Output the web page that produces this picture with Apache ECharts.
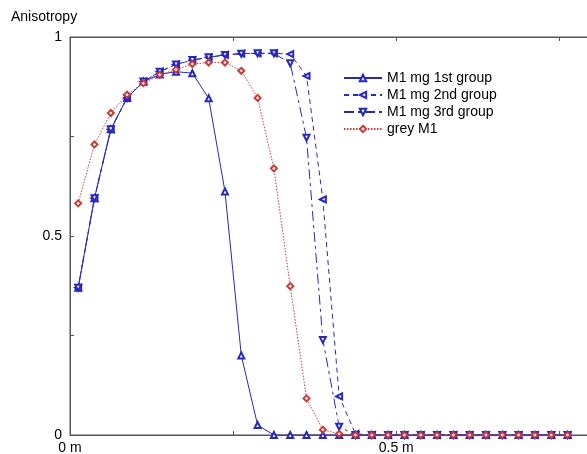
<!DOCTYPE html>
<html>
<head>
<meta charset="utf-8">
<script src="https://cdn.jsdelivr.net/npm/echarts@6/dist/echarts.min.js"></script>
<style>html,body{margin:0;padding:0;background:#fff}#c{width:587px;height:454px}</style>
</head>
<body>
<div id="c"></div>
<script>
const xs = [0.0125,0.0375,0.0625,0.0875,0.1125,0.1375,0.1625,0.1875,0.2125,0.2375,0.2625,0.2875,0.3125,0.3375,0.3625,0.3875,0.4125,0.4375,0.4625,0.4875,0.5125,0.5375,0.5625,0.5875,0.6125,0.6375,0.6625,0.6875,0.7125,0.7375,0.7625];
const group1 = [0.37,0.595,0.768,0.847,0.888,0.906,0.913,0.909,0.846,0.612,0.2,0.025,0,0,0,0,0,0,0,0,0,0,0,0,0,0,0,0,0,0,0];
const group2 = [0.37,0.595,0.768,0.847,0.888,0.913,0.931,0.942,0.949,0.955,0.958,0.959,0.959,0.957,0.902,0.592,0.097,0.003,0,0,0,0,0,0,0,0,0,0,0,0,0];
const group3 = [0.37,0.595,0.768,0.847,0.888,0.913,0.931,0.942,0.949,0.955,0.958,0.959,0.959,0.934,0.747,0.239,0.021,0,0,0,0,0,0,0,0,0,0,0,0,0,0];
const greyM1 = [0.582,0.73,0.809,0.855,0.884,0.905,0.918,0.932,0.936,0.936,0.915,0.847,0.67,0.374,0.092,0.013,0.003,0,0,0,0,0,0,0,0,0,0,0,0,0,0];
const names = ['M1 mg 1st group','M1 mg 2nd group','M1 mg 3rd group','grey M1'];
const xTickLabels = {0: '0 m', 0.5: '0.5 m'};
const yTickLabels = {0: '0', 0.5: '0.5', 1: '1'};

const BLUE = '#2828c0', RED = '#cc3a3a', AX = '#555';
const pair = arr => xs.map((x, i) => [x, arr[i]]);
const font = 'Liberation Sans, Arial, sans-serif';

const chart = echarts.init(document.getElementById('c'), null, {renderer: 'canvas'});
function lbl(map, v) {
  for (const k in map) if (Math.abs(v - Number(k)) < 1e-9) return map[k];
  return '';
}
chart.setOption({
  animation: false,
  backgroundColor: '#fff',
  title: {text: 'Anisotropy', left: 11, top: 10, padding: 0, textStyle: {fontSize: 14, fontWeight: 'normal', color: '#000', fontFamily: font}},
  grid: {left: 70, top: 37, width: 522, bottom: 19, outerBoundsMode: 'none', containLabel: false,
         show: true, borderColor: AX, borderWidth: 1, backgroundColor: 'transparent'},
  legend: {
    orient: 'vertical', left: 338, top: 66, itemWidth: 38, itemHeight: 8, itemGap: 3,
    data: names,
    textStyle: {fontSize: 14, color: '#000', fontFamily: font}
  },
  xAxis: [{
    type: 'value', min: 0, max: 0.8, interval: 0.25,
    axisLine: {lineStyle: {color: AX}}, splitLine: {show: false},
    axisTick: {inside: true, length: 4, lineStyle: {color: AX}},
    axisLabel: {margin: 6, fontSize: 14, color: '#000', fontFamily: font, showMaxLabel: false, formatter: v => lbl(xTickLabels, v)}
  }, {
    type: 'value', min: 0, max: 0.8, interval: 0.25, position: 'top',
    axisLine: {lineStyle: {color: AX}}, splitLine: {show: false},
    axisTick: {inside: true, length: 4, lineStyle: {color: AX}},
    axisLabel: {show: false}
  }],
  yAxis: [{
    type: 'value', min: 0, max: 1, interval: 0.25,
    axisLine: {show: true, lineStyle: {color: AX}}, splitLine: {show: false},
    axisTick: {inside: true, length: 4, lineStyle: {color: AX}},
    axisLabel: {margin: 8, fontSize: 14, color: '#000', fontFamily: font, formatter: v => lbl(yTickLabels, v)}
  }],
  series: [
    {name: names[0], type: 'line', data: pair(group1), symbol: 'emptyTriangle', symbolSize: 6,
     itemStyle: {color: BLUE}, lineStyle: {color: BLUE, width: 1, type: 'solid'}},
    {name: names[1], type: 'line', data: pair(group2), symbol: 'emptyTriangle', symbolSize: 6, symbolRotate: 90,
     itemStyle: {color: BLUE}, lineStyle: {color: BLUE, width: 1, type: [5, 4]}},
    {name: names[2], type: 'line', data: pair(group3), symbol: 'emptyTriangle', symbolSize: 6, symbolRotate: 180,
     itemStyle: {color: BLUE}, lineStyle: {color: BLUE, width: 1, type: [10, 4, 3, 4]}},
    {name: names[3], type: 'line', data: pair(greyM1), symbol: 'emptyDiamond', symbolSize: 6,
     itemStyle: {color: RED}, lineStyle: {color: RED, width: 1, type: [1.5, 1.5]}}
  ]
});
</script>
</body>
</html>
